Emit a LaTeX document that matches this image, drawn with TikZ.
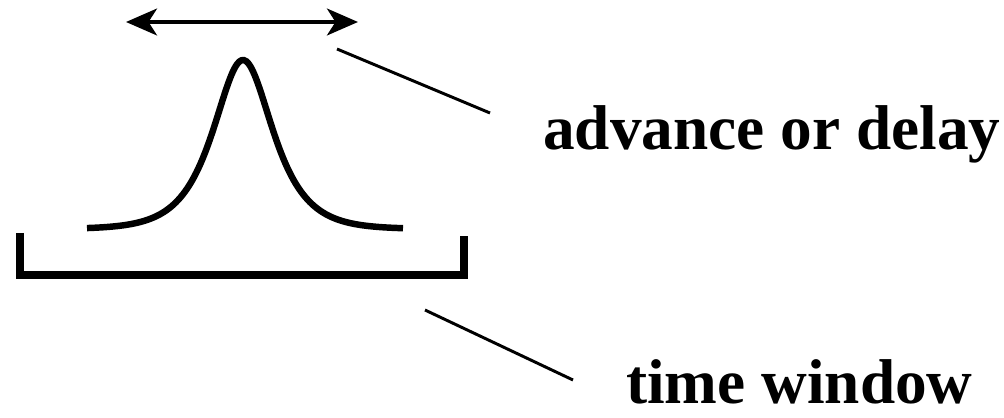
\documentclass[tikz,border=0pt]{standalone}
\usepackage{fontspec}
\setmainfont{Liberation Serif}
\usetikzlibrary{arrows.meta}

\tikzset{
  pulse/.style={line width=4.6pt, line cap=butt},
  window/.style={line width=5pt, line join=miter},
  shiftarrow/.style={line width=3pt, {Stealth[length=22pt,width=19pt,inset=6pt]}-{Stealth[length=22pt,width=19pt,inset=6pt]}},
  leader/.style={line width=2.1pt},
  caption/.style={inner sep=0pt, anchor=base west, font=\fontsize{45}{54}\selectfont\bfseries}
}

\begin{document}
\begin{tikzpicture}[x=0.025cm, y=-0.025cm]
    \useasboundingbox (0,0) rectangle (1004,418);

    \coordinate (a0) at (126,22);
    \coordinate (a1) at (358,22);
    \coordinate (w0) at (20,233);
    \coordinate (w1) at (20,275);
    \coordinate (w2) at (464,275);
    \coordinate (w3) at (464,236);
    \coordinate (l0) at (337,49);
    \coordinate (l1) at (490,113);
    \coordinate (t0) at (425,310);
    \coordinate (t1) at (573,380);

    \node[caption] (adv) at (543,150) {advance or delay};
    \node[caption, text depth=0pt] (win) at (626,403) {time window};

    % the pulse
    \draw[pulse] plot[domain=87:403, samples=140, smooth]
        (\x, {229 - 169/cosh((\x-243)/26.5)});

    \draw[shiftarrow] (a0) -- (a1);
    \draw[window] (w0) -- (w1) -- (w2) -- (w3);

    \draw[leader] (l0) -- (l1);
    \draw[leader] (t0) -- (t1);

\end{tikzpicture}
\end{document}
